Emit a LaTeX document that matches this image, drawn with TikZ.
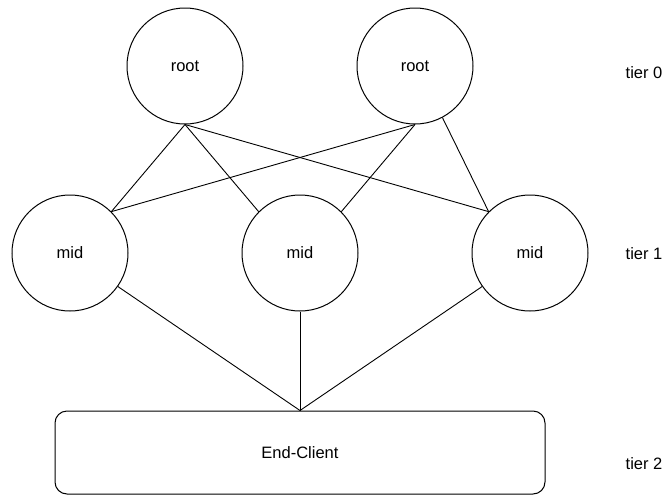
\documentclass[tikz,border=0pt]{standalone}
\usepackage{fontspec}
\setmainfont{Liberation Sans}
\begin{document}
\begin{tikzpicture}[x=1pt,y=-1pt,
  every node/.style={font=\fontsize{16.5}{19}\selectfont},
  peer/.style={draw=black,line width=1pt,circle,minimum size=116pt,inner sep=0pt},
  clientbox/.style={draw=black,line width=1pt,rectangle,rounded corners=12pt,
                    minimum width=490pt,minimum height=83pt,inner sep=0pt},
  link/.style={draw=black,line width=0.9pt},
  tierlabel/.style={anchor=center}]
\useasboundingbox (0,0) rectangle (665,496);

% tier 0
\node[peer] (r1) at (185,66) {root};
\node[peer] (r2) at (415,66) {root};
% tier 1
\node[peer] (m1) at (70,253) {mid};
\node[peer] (m2) at (300,253) {mid};
\node[peer] (m3) at (530,253) {mid};
% tier 2
\node[clientbox] (ec) at (300,452.5) {End-Client};

% tier captions
\node[tierlabel] (t0) at (644,73) {tier 0};
\node[tierlabel] (t1) at (644,254) {tier 1};
\node[tierlabel] (t2) at (644,464) {tier 2};

% root -> mid links
\draw[link] (r1.south) -- (m1.45);
\draw[link] (r1.south) -- (m2.135);
\draw[link] (r1.south) -- (m3.135);
\draw[link] (r2.south) -- (m1.45);
\draw[link] (r2.south) -- (m2.45);
\draw[link] (r2.-62) -- (m3.135);

% mid -> client links
\draw[link] (m1.-35) -- (ec.north);
\draw[link] (m2.south) -- (ec.north);
\draw[link] (m3.215) -- (ec.north);
\end{tikzpicture}
\end{document}
